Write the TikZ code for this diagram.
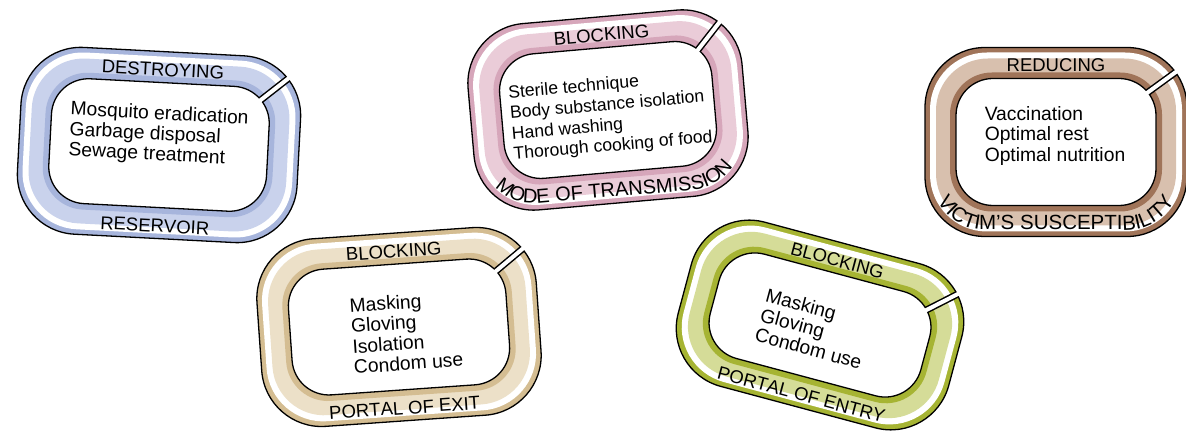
\documentclass[tikz,border=0pt]{standalone}
\usepackage{fontspec}
\setmainfont{Liberation Sans}
\usetikzlibrary{decorations.text}

\definecolor{resMid}{HTML}{A7B5DC}
\definecolor{resLight}{HTML}{C9D2EC}
\definecolor{modeMid}{HTML}{D6A6BA}
\definecolor{modeLight}{HTML}{EACCD8}
\definecolor{vicMid}{HTML}{A07459}
\definecolor{vicLight}{HTML}{D8C0AE}
\definecolor{exitMid}{HTML}{D4BD92}
\definecolor{exitLight}{HTML}{ECE0C8}
\definecolor{entryMid}{HTML}{A6B433}
\definecolor{entryLight}{HTML}{D5DC98}

\newcommand{\linkfont}{\fontsize{18.5}{20}\selectfont}
\newcommand{\curvefont}{\fontsize{20}{22}\selectfont}

% #1 colour prefix, #2 placement, #3 half width, #4 half height,
% #5 angle of the cut, #6 top word, #7 bottom word, #8 list options, #9 list
\newcommand{\chainlink}[9]{%
\begin{scope}[#2, transform shape]
  \fill[#1Mid, rounded corners=60pt] (-#3,-#4) rectangle (#3,#4);
  \fill[white, rounded corners=57pt] ({-#3+5},{-#4+5}) rectangle ({#3-5},{#4-5});
  \fill[#1Light, rounded corners=52pt] ({-#3+11},{-#4+11}) rectangle ({#3-11},{#4-11});
  \fill[#1Mid, rounded corners=42pt] ({-#3+25},{-#4+25}) rectangle ({#3-25},{#4-25});
  \fill[white, rounded corners=37pt] ({-#3+31},{-#4+31}) rectangle ({#3-31},{#4-31});
  \draw[rim, rounded corners=60pt] (-#3,-#4) rectangle (#3,#4);
  \draw[rim, rounded corners=37pt] ({-#3+31},{-#4+31}) rectangle ({#3-31},{#4-31});
  % the cut
  \begin{scope}[shift={({#3-60},{#4-60})}]
    \draw[line width=7pt] (#5:25.7) -- (#5:60);
    \draw[white, line width=4pt] (#5:23) -- (#5:62);
  \end{scope}
  \node[linkword] (#1-top) at (0,{#4-18}) {#6};
  \path[decorate, decoration={text along path, text align=center, text={#7}}]
    ({-#3+6.5},{-#4+60}) arc[start angle=180, end angle=270, radius=53.5pt]
    -- ({#3-60},{-#4+6.5}) arc[start angle=270, end angle=360, radius=53.5pt];
  \node[linklist, #8] (#1-list) {#9};
\end{scope}}

\begin{document}
\begin{tikzpicture}[
    x=1pt, y=1pt,
    rim/.style={draw=black, line width=1.3pt},
    linkword/.style={inner sep=0pt, font=\linkfont},
    linklist/.style={inner sep=0pt, align=left, font={\fontsize{19.3}{20.5}\selectfont}}
]
\useasboundingbox (0,0) rectangle (1186,431);

% Reservoir
\chainlink{res}{shift={(159,286)}, rotate=-3}{140}{93.5}{41}{DESTROYING}{|\linkfont|RESERVOIR}
  {at={(-1,10)}}{Mosquito eradication\\Garbage disposal\\Sewage treatment}

% Mode of transmission
\chainlink{mode}{shift={(608,321)}, rotate=5}{137.5}{93.5}{47}{BLOCKING}{|\curvefont|MODE OF TRANSMISSION}
  {at={(2,-6)}, font={\fontsize{17.6}{20.5}\selectfont}}
  {Sterile technique\\Body substance isolation\\Hand washing\\Thorough cooking of food}

% Victim's susceptibility
\chainlink{vic}{shift={(1056,289)}}{131}{94.5}{36}{REDUCING}{|\fontsize{20.5}{22}\selectfont|VICTIM'S SUSCEPTIBILITY}
  {at={(-1,6)}}{Vaccination\\Optimal rest\\Optimal nutrition}

% Portal of exit
\chainlink{exit}{shift={(399,104)}, rotate=4}{140}{94}{36}{BLOCKING}{|\linkfont|PORTAL OF EXIT}
  {at={(7,-6)}}{Masking\\Gloving\\Isolation\\Condom use}

% Portal of entry
\chainlink{entry}{shift={(820,106)}, rotate=-15}{140}{85}{42}{BLOCKING}{|\linkfont|PORTAL OF ENTRY}
  {at={(-5,-5)}}{Masking\\Gloving\\Condom use}

\end{tikzpicture}
\end{document}
